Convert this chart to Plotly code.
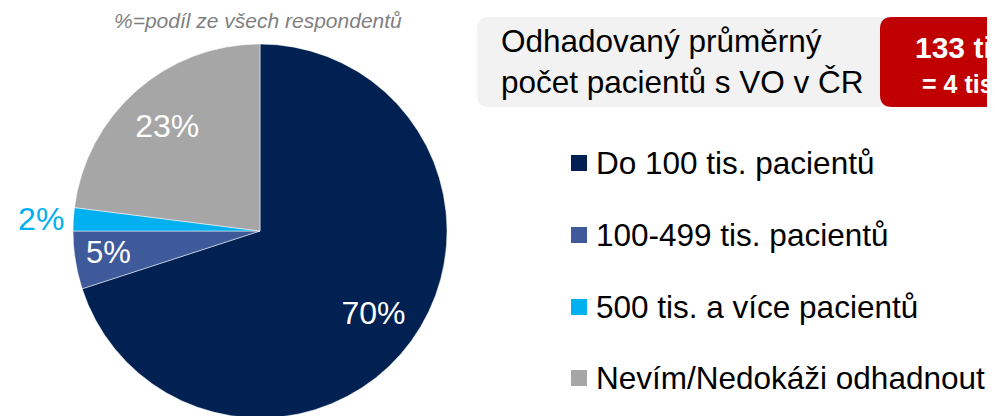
import plotly.graph_objects as go

# ---- data ----
labels = ["Do 100 tis. pacientů", "100-499 tis. pacientů", "500 tis. a více pacientů", "Nevím/Nedokáži odhadnout"]
values = [70, 5, 2, 23]
colors = ["#002152", "#3F5A9B", "#00B0F0", "#A6A6A6"]
text_colors = ["#FFFFFF", "#FFFFFF", "#00B0F0", "#FFFFFF"]
ring_text = ["%{value}%", "", "%{value}%", "%{value}%"]      # labels carried by the ring
ring_pos = ["inside", "inside", "outside", "inside"]
small_text = ["", "%{value}%", "", ""]                        # label carried by the inner pie
subtitle = "%=podíl ze všech respondentů"
box_title = "Odhadovaný průměrný<br>počet pacientů s VO v ČR"
box_value = "133 tis."
box_value_sub = "= 4 tis."

W, H = 995, 416
OFF = 8  # page body margin
FONT = "Liberation Sans, Arial, sans-serif"


def px(x):
    return (x - OFF) / W


def py(y):
    return 1 - (y - OFF) / H


def rounded_rect(x0, y0, x1, y1, r):
    pts = [
        f"M{px(x0 + r)},{py(y0)}",
        f"L{px(x1 - r)},{py(y0)}",
        f"Q{px(x1)},{py(y0)} {px(x1)},{py(y0 + r)}",
        f"L{px(x1)},{py(y1 - r)}",
        f"Q{px(x1)},{py(y1)} {px(x1 - r)},{py(y1)}",
        f"L{px(x0 + r)},{py(y1)}",
        f"Q{px(x0)},{py(y1)} {px(x0)},{py(y1 - r)}",
        f"L{px(x0)},{py(y0 + r)}",
        f"Q{px(x0)},{py(y0)} {px(x0 + r)},{py(y0)}",
        "Z",
    ]
    return " ".join(pts)


CX, CY, R_IN = 260, 233, 122
pie_domain = dict(x=[px(8), px(512)], y=[py(418), py(44)])
inner_domain = dict(x=[px(CX - R_IN), px(CX + R_IN)], y=[py(CY + R_IN), py(CY - R_IN)])
common = dict(labels=labels, values=values, sort=False, direction="clockwise", rotation=0,
              showlegend=False)
clear = ["rgba(0,0,0,0)"] * len(values)

fig = go.Figure()
# slices
fig.add_trace(go.Pie(
    **common,
    marker=dict(colors=colors, line=dict(color="#FFFFFF", width=0.5)),
    textinfo="none",
    domain=pie_domain,
    hoverinfo="label+percent",
))
# transparent ring carrying most percentage labels
fig.add_trace(go.Pie(
    **common,
    hole=0.5,
    marker=dict(colors=clear, line=dict(width=0)),
    texttemplate=ring_text,
    textposition=ring_pos,
    insidetextorientation="horizontal",
    textfont=dict(family=FONT, size=32, color=text_colors),
    domain=pie_domain,
    hoverinfo="skip",
))
# transparent inner pie carrying the small-slice label (avoids text shrinking)
fig.add_trace(go.Pie(
    **common,
    marker=dict(colors=clear, line=dict(width=0)),
    texttemplate=small_text,
    textposition="outside",
    textfont=dict(family=FONT, size=31, color="#FFFFFF"),
    domain=inner_domain,
    hoverinfo="skip",
))

shapes = [
    dict(type="path", xref="paper", yref="paper", path=rounded_rect(477, 17, 900, 107, 12),
         fillcolor="#F2F2F2", line=dict(width=0), layer="below"),
    dict(type="path", xref="paper", yref="paper", path=rounded_rect(880, 17, 1100, 107, 12),
         fillcolor="#C00000", line=dict(width=0), layer="below"),
]

annotations = [
    dict(text=subtitle, x=px(258), y=py(20), xref="paper", yref="paper", showarrow=False,
         xanchor="center", yanchor="middle",
         font=dict(family=FONT, size=21, color="#7F7F7F", style="italic")),
    dict(text=box_title, x=px(499), y=py(62), xref="paper", yref="paper", showarrow=False,
         xanchor="left", yanchor="middle", align="left",
         font=dict(family=FONT, size=31.5, color="#000000")),
    dict(text=f"<b>{box_value}</b>", x=px(913), y=py(47), xref="paper", yref="paper", showarrow=False,
         xanchor="left", yanchor="middle", align="left",
         font=dict(family=FONT, size=30, color="#FFFFFF")),
    dict(text=f"<b>{box_value_sub}</b>", x=px(920), y=py(84), xref="paper", yref="paper", showarrow=False,
         xanchor="left", yanchor="middle", align="left",
         font=dict(family=FONT, size=25, color="#FFFFFF")),
]

# manual legend
leg_y = [163, 235, 307, 378]
for lab, col, yy in zip(labels, colors, leg_y):
    shapes.append(dict(type="rect", xref="paper", yref="paper",
                       x0=px(571), x1=px(587), y0=py(yy - 8), y1=py(yy + 8),
                       fillcolor=col, line=dict(width=0)))
    annotations.append(dict(text=lab, x=px(594), y=py(yy), xref="paper", yref="paper",
                            showarrow=False, xanchor="left", yanchor="middle",
                            font=dict(family=FONT, size=31.5, color="#000000")))

fig.update_layout(
    width=W, height=H,
    margin=dict(l=0, r=0, t=0, b=0, autoexpand=False),
    paper_bgcolor="#FFFFFF",
    plot_bgcolor="#FFFFFF",
    shapes=shapes,
    annotations=annotations,
    font=dict(family=FONT),
)

fig.write_html("out.html")
